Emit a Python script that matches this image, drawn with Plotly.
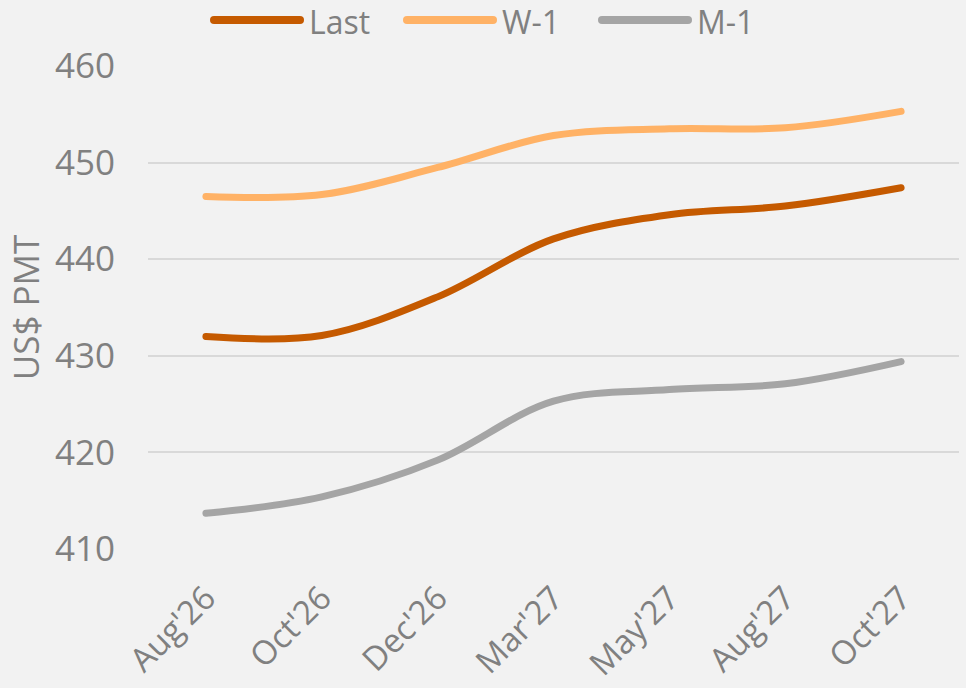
import plotly.graph_objects as go

categories = ["Aug'26", "Oct'26", "Dec'26", "Mar'27", "May'27", "Aug'27", "Oct'27"]
last_vals = [432.0, 432.1, 436.1, 442.1, 444.6, 445.5, 447.4]
w1_vals = [446.5, 446.7, 449.5, 452.8, 453.5, 453.6, 455.3]
m1_vals = [413.7, 415.4, 419.2, 425.3, 426.5, 427.1, 429.4]

series_names = ["Last", "W-1", "M-1"]
series_vals = [last_vals, w1_vals, m1_vals]
series_colors = ["#C55A00", "#FFB266", "#A5A5A5"]

FONT = "Open Sans"
TXT = "#808080"
W, H = 966, 688
ML, MR, MT, MB = 148, 7, 66, 139
PW, PH = W - ML - MR, H - MT - MB


def px_x(p):
    return (p - ML) / PW


def px_y(p):
    return (H - MB - p) / PH


fig = go.Figure()
for name, vals, col in zip(series_names, series_vals, series_colors):
    fig.add_trace(go.Scatter(
        x=categories, y=vals, name=name, mode="lines", showlegend=False,
        line=dict(color=col, width=7, shape="spline", smoothing=1.0),
    ))

# custom legend (long line samples like the original)
legend_sample_left = [214, 407, 602]
sample_len = 86
LEG_Y = 22
for name, col, left in zip(series_names, series_colors, legend_sample_left):
    fig.add_shape(type="line", xref="paper", yref="paper",
                  x0=px_x(left), x1=px_x(left + sample_len), y0=px_y(20), y1=px_y(20),
                  line=dict(color=col, width=8), layer="above")
    fig.add_annotation(xref="paper", yref="paper", x=px_x(left + sample_len + 8), y=px_y(LEG_Y),
                       xanchor="left", yanchor="middle", text=name, showarrow=False,
                       font=dict(size=32, color=TXT, family=FONT), borderpad=0)

fig.update_layout(
    width=W, height=H,
    paper_bgcolor="#F2F2F2", plot_bgcolor="#F2F2F2",
    margin=dict(l=ML, r=MR, t=MT, b=MB, autoexpand=False),
    font=dict(family=FONT, color=TXT, size=33),
    showlegend=False,
    xaxis=dict(
        type="category", range=[-0.5, 6.5], tickangle=-45, showgrid=False, zeroline=False,
        showline=False, ticks="", ticklabelstandoff=22,
        tickfont=dict(size=33, color=TXT, family=FONT),
    ),
    yaxis=dict(
        range=[410, 460], dtick=10, showgrid=True, gridcolor="#D9D9D9", gridwidth=2,
        zeroline=False, showline=False, ticks="", ticklabelstandoff=32,
        tickfont=dict(size=35, color=TXT, family=FONT),
        title=dict(text="US$ PMT", font=dict(size=35, color=TXT, family=FONT), standoff=4),
    ),
)

post = (
    "document.body.style.margin='0';"
    "document.querySelectorAll('path.js-line, .shapelayer path').forEach(function(p){"
    "p.style.strokeLinecap='round';});"
)
fig.write_html("out.html", config={"displayModeBar": False}, post_script=post)
